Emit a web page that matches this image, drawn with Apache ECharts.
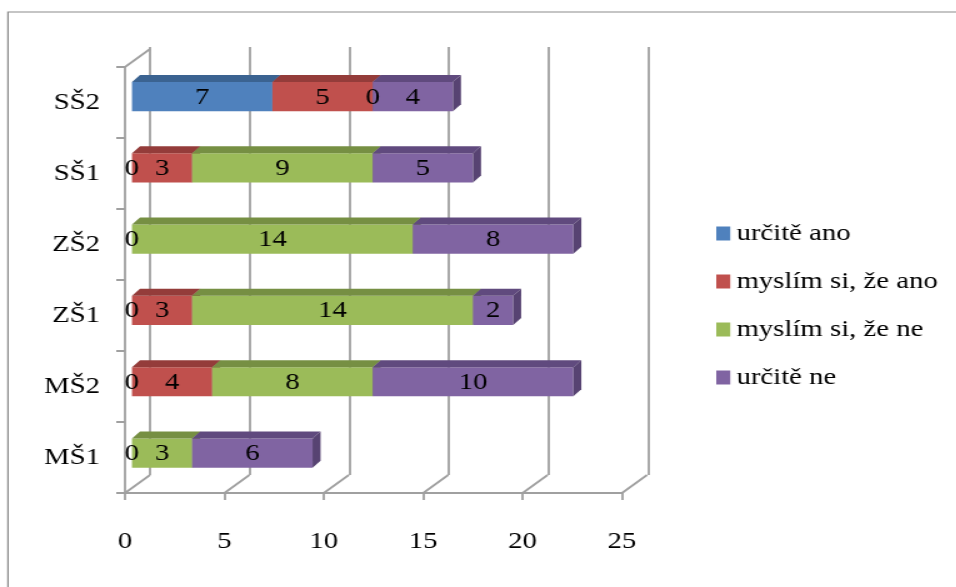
<!DOCTYPE html>
<html>
<head>
<meta charset="utf-8">
<script src="https://cdn.jsdelivr.net/npm/echarts@6/dist/echarts.min.js"></script>
<style>
  html, body { margin: 0; padding: 0; background: #fff; overflow: hidden; }
  /* the reference picture is stretched sideways, so the chart is drawn narrower and scaled */
  #chart { width: 765px; height: 587px; transform: scaleX(1.25); transform-origin: 0 0; }
</style>
</head>
<body>
<div id="chart"></div>
<script>
  // categories from bottom to top
  const categories = ['MŠ1', 'MŠ2', 'ZŠ1', 'ZŠ2', 'SŠ1', 'SŠ2']
  const seriesNames = ['určitě ano', 'myslím si, že ano', 'myslím si, že ne', 'určitě ne']
  const urciteAno = [0, 0, 0, 0, 0, 7]
  const myslimAno = [null, 4, 3, null, 3, 5]
  const myslimNe = [3, 8, 14, 14, 9, 0]
  const urciteNe = [6, 10, 2, 8, 5, 4]
  const xTicks = [0, 5, 10, 15, 20, 25]

  const colors = ['#4F81BD', '#C0504D', '#9BBB59', '#8064A2']
  const topColors = ['#3B6391', '#943C3A', '#768F43', '#604A7E']
  const sideColors = ['#335683', '#853533', '#6A813B', '#574372']

  const font = 'Liberation Serif'
  const fontSize = 23
  const gridColor = '#A0A0A0'

  const allValues = [urciteAno, myslimAno, myslimNe, urciteNe]

  // stacked segments [category, start, end, value]
  const segments = allValues.map(function (vals, i) {
    const out = []
    vals.forEach(function (v, j) {
      if (v == null) return
      let start = 0
      for (let k = 0; k < i; k++) {
        if (allValues[k][j] != null) start += allValues[k][j]
      }
      out.push([j, start, start + v, v])
    })
    return out
  })

  const dx = 6.4, dy = -7
  const floorDx = 20, floorDy = -18

  function renderBar(idx) {
    return function (params, api) {
      const cat = api.value(0)
      const a = api.coord([api.value(1), cat])
      const b = api.coord([api.value(2), cat])
      const h = api.size([0, 1])[1] * 0.41
      const y0 = a[1] - h / 2, y1 = a[1] + h / 2
      const children = []
      if (b[0] - a[0] > 0.5) {
        children.push({
          type: 'rect', shape: {x: a[0], y: y0, width: b[0] - a[0], height: h},
          style: {fill: colors[idx]}
        })
        children.push({
          type: 'polygon', shape: {points: [[a[0], y0], [b[0], y0], [b[0] + dx, y0 + dy], [a[0] + dx, y0 + dy]]},
          style: {fill: topColors[idx]}
        })
        children.push({
          type: 'polygon', shape: {points: [[b[0], y0], [b[0] + dx, y0 + dy], [b[0] + dx, y1 + dy], [b[0], y1]]},
          style: {fill: sideColors[idx]}
        })
      }
      children.push({
        type: 'text', z2: 100,
        style: {
          text: String(api.value(3)), x: (a[0] + b[0]) / 2, y: a[1] + 1,
          align: 'center', verticalAlign: 'middle',
          fontSize: fontSize, fontFamily: font, fill: '#000'
        }
      })
      return {type: 'group', children: children}
    }
  }

  const chart = echarts.init(document.getElementById('chart'))

  const barSeries = segments.map(function (data, i) {
    return {
      type: 'custom',
      name: seriesNames[i],
      xAxisIndex: 0,
      yAxisIndex: 0,
      itemStyle: {color: colors[i]},
      encode: {x: [1, 2], y: 0},
      renderItem: renderBar(i),
      data: data,
      z: 5
    }
  })

  chart.setOption({
    animation: false,
    backgroundColor: '#fff',
    graphic: [{
      type: 'rect', shape: {x: 6.4, y: 12, width: 800, height: 600},
      style: {fill: 'none', stroke: '#8C8C8C', lineWidth: 1.2}, silent: true
    }],
    legend: {
      orient: 'vertical',
      left: 568,
      top: 217,
      itemWidth: 11.2,
      itemHeight: 14,
      itemGap: 25,
      icon: 'rect',
      textStyle: {fontSize: fontSize, fontFamily: font, color: '#000'},
      data: seriesNames
    },
    grid: [
      // bar front faces
      {left: 105.6, width: 401.2, top: 60.9, height: 427.8},
      // back wall
      {left: 120, width: 398.4, top: 47, height: 428},
      // floor and left wall
      {left: 100, width: 397.6, top: 67, height: 426}
    ],
    xAxis: [
      {gridIndex: 0, type: 'value', min: 0, max: 25, show: false},
      {
        gridIndex: 1, type: 'value', min: 0, max: 25, interval: 5,
        axisLine: {show: false}, axisTick: {show: false}, axisLabel: {show: false},
        splitLine: {show: true, lineStyle: {color: gridColor, width: 1.8}}
      },
      {
        gridIndex: 2, type: 'value', min: 0, max: 25, interval: 5,
        axisLine: {show: true, lineStyle: {color: gridColor, width: 2}},
        axisTick: {show: true, length: 7, lineStyle: {color: gridColor, width: 1.8}},
        axisLabel: {margin: 37, fontSize: fontSize, fontFamily: font, color: '#000'},
        splitLine: {show: false}
      }
    ],
    yAxis: [
      {gridIndex: 0, type: 'category', data: categories, show: false},
      {gridIndex: 1, type: 'value', show: false},
      {
        gridIndex: 2, type: 'category', data: categories,
        axisLine: {show: true, lineStyle: {color: gridColor, width: 1.8}},
        axisTick: {show: true, length: 7, lineStyle: {color: gridColor, width: 2}},
        axisLabel: {margin: 20, fontSize: fontSize, fontFamily: font, color: '#000'}
      }
    ],
    series: barSeries.concat([{
      type: 'custom',
      xAxisIndex: 2,
      yAxisIndex: 2,
      silent: true,
      z: 1,
      encode: {x: 0},
      data: xTicks.map(function (t) { return [t] }),
      renderItem: function (params, api) {
        const cs = params.coordSys
        const p = api.coord([api.value(0), 0])
        const bottom = cs.y + cs.height
        const ls = {stroke: gridColor, lineWidth: 1.8}
        const children = [{
          type: 'line', shape: {x1: p[0], y1: bottom, x2: p[0] + floorDx, y2: bottom + floorDy}, style: ls
        }]
        if (params.dataIndex === 0) {
          children.push({
            type: 'line', shape: {x1: cs.x, y1: cs.y, x2: cs.x + floorDx, y2: cs.y + floorDy}, style: ls
          })
        }
        return {type: 'group', children: children}
      }
    }])
  })
</script>
</body>
</html>
